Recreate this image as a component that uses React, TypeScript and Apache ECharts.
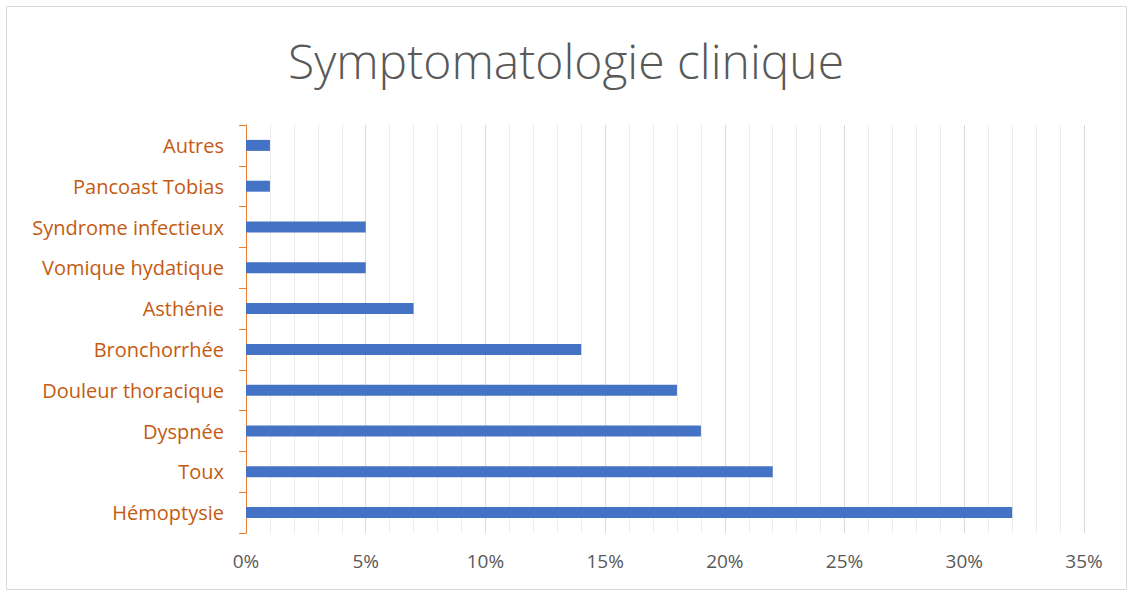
import React, { useEffect, useRef } from "react";
import * as echarts from "echarts";

const categories = [
  "Hémoptysie",
  "Toux",
  "Dyspnée",
  "Douleur thoracique",
  "Bronchorrhée",
  "Asthénie",
  "Vomique hydatique",
  "Syndrome infectieux",
  "Pancoast Tobias",
  "Autres",
];
const values = [32, 22, 19, 18, 14, 7, 5, 5, 1, 1];
const titleText = "Symptomatologie clinique";

export default function App() {
  const ref = useRef<HTMLDivElement>(null);
  useEffect(() => {
    if (!ref.current) return;
    const chart = echarts.init(ref.current, null, { renderer: "svg" });
    chart.setOption({
      animation: false,
      backgroundColor: "#ffffff",
      title: {
        text: titleText,
        left: "center",
        top: 31,
        textStyle: {
          fontFamily: "Open Sans",
          fontWeight: 300,
          fontSize: 48,
          color: "#595959",
        },
      },
      graphic: [
        {
          type: "rect",
          shape: { x: 6.5, y: 6.5, width: 1120, height: 583 },
          style: { fill: "none", stroke: "#D9D9D9", lineWidth: 1 },
          silent: true,
        },
      ],
      grid: { left: 246, right: 48, top: 125, bottom: 61 },
      xAxis: {
        type: "value",
        min: 0,
        max: 35,
        interval: 5,
        axisLine: { show: false },
        axisTick: { show: false },
        axisLabel: {
          formatter: "{value}%",
          color: "#595959",
          fontFamily: "Open Sans",
          fontSize: 19,
          margin: 18,
        },
        splitLine: { show: true, lineStyle: { color: "#D9D9D9", width: 1 } },
        minorTick: { show: false, splitNumber: 5 },
        minorSplitLine: { show: true, lineStyle: { color: "#EBEBEB", width: 1 } },
      },
      yAxis: {
        type: "category",
        data: categories,
        axisLine: { show: true, lineStyle: { color: "#ED7D31", width: 1 } },
        axisTick: { show: true, length: 7, lineStyle: { color: "#ED7D31" } },
        axisLabel: {
          color: "#C55A11",
          fontFamily: "Open Sans",
          fontSize: 20,
          margin: 22,
        },
        splitLine: { show: false },
      },
      series: [
        {
          type: "bar",
          data: values,
          barWidth: 11,
          itemStyle: { color: "#4472C4" },
        },
      ],
    });
    return () => chart.dispose();
  }, []);
  return (
    <div
      ref={ref}
      style={{ position: "fixed", left: 0, top: 0, width: 1132, height: 594 }}
    />
  );
}
